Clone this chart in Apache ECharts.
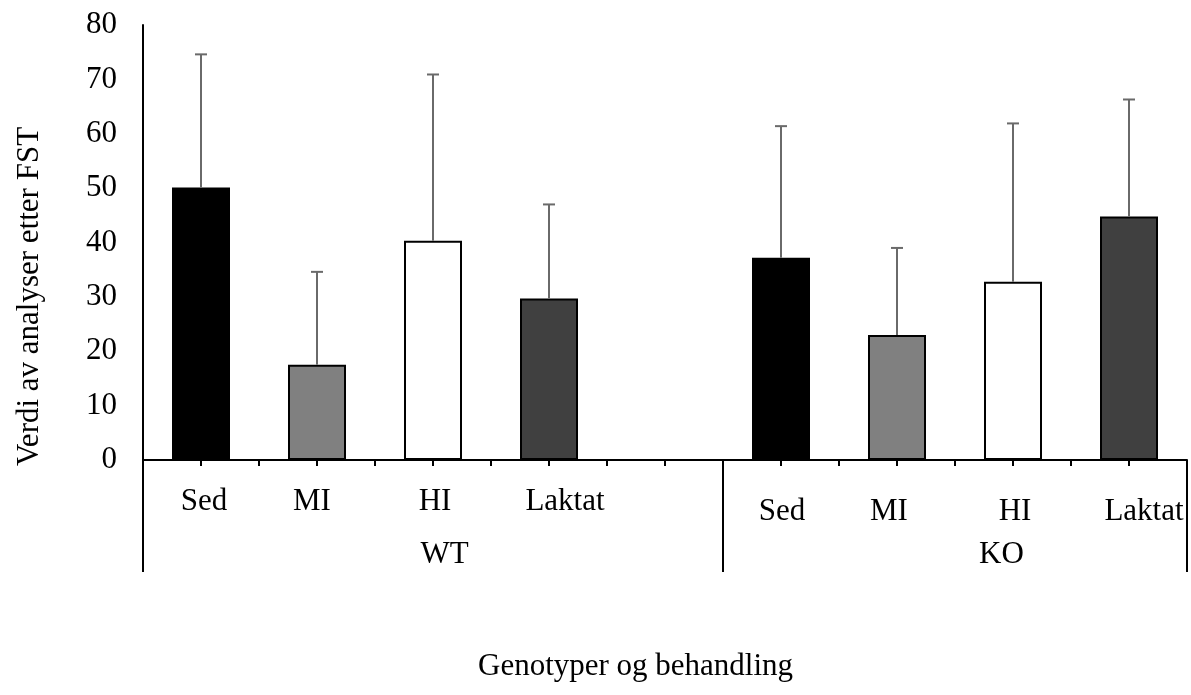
<!DOCTYPE html>
<html>
<head>
<meta charset="utf-8">
<script src="https://cdn.jsdelivr.net/npm/echarts@6/dist/echarts.min.js"></script>
<style>
  html, body { margin: 0; padding: 0; background: #fff; }
  #chart { width: 1191px; height: 695px; }
</style>
</head>
<body>
<div id="chart"></div>
<script>
// values
const treatments = ['Sed', 'MI', 'HI', 'Laktat'];
const genotypes = ['WT', 'KO'];
const wtMeans = [50.1, 17.5, 40.3, 29.7];
const wtSD = [24.5, 17.1, 30.6, 17.3];
const koMeans = [37.2, 23.0, 32.8, 44.8];
const koSD = [24.2, 16.0, 29.1, 21.5];
const yTicks = [0, 10, 20, 30, 40, 50, 60, 70, 80];

const barColors = ['#000000', '#808080', '#ffffff', '#404040'];
const FONT = "'Liberation Serif', 'Times New Roman', serif";

// one empty slot between the genotype groups, like the excel sheet
const categories = [...treatments, '', ...treatments];
const means = [...wtMeans, null, ...koMeans];
const sds = [...wtSD, null, ...koSD];

// excel puts a few labels slightly off centre, and the KO row a bit lower
const labelPad = [
  [0, 0, 0, 6], [0, 10, 0, 0], [0, 0, 0, 4], [0, 0, 0, 32], [0, 0, 0, 0],
  [10, 0, 0, 2], [10, 16, 0, 0], [10, 0, 0, 4], [10, 0, 0, 30]
];

const myChart = echarts.init(document.getElementById('chart'));

const option = {
  animation: false,
  backgroundColor: '#fff',
  textStyle: { fontFamily: FONT },
  title: {
    text: 'Genotyper og behandling',
    left: 473,
    top: 646,
    textStyle: { fontFamily: FONT, fontSize: 31, fontWeight: 'normal', color: '#000' }
  },
  grid: { left: 143, right: 4, top: 25, bottom: 235, containLabel: false },
  xAxis: [
    {
      type: 'category',
      data: categories.map((c, i) => ({
        value: c,
        textStyle: { padding: labelPad[i] }
      })),
      axisLine: { lineStyle: { color: '#000', width: 2 } },
      axisTick: { show: true, length: 6, lineStyle: { color: '#000', width: 2 } },
      axisLabel: {
        interval: 0,
        margin: 26,
        fontSize: 31,
        fontFamily: FONT,
        color: '#000'
      },
      splitLine: { show: false }
    },
    {
      // ticks in the middle of each category
      type: 'category',
      data: categories,
      position: 'bottom',
      axisLine: { show: false },
      axisTick: { show: true, alignWithLabel: true, length: 6, lineStyle: { color: '#000', width: 2 } },
      axisLabel: { show: false },
      splitLine: { show: false }
    },
    {
      // genotype level: long dividers and WT / KO labels
      type: 'value',
      min: 0,
      max: categories.length,
      position: 'bottom',
      axisLine: { show: false },
      splitLine: { show: false },
      axisTick: {
        show: true,
        customValues: [0, treatments.length + 1, categories.length],
        length: 112,
        lineStyle: { color: '#000', width: 2 }
      },
      axisLabel: {
        customValues: [2.6, 7.4],
        formatter: (v) => (v < treatments.length + 1 ? genotypes[0] : genotypes[1]),
        margin: 79,
        fontSize: 31,
        fontFamily: FONT,
        color: '#000'
      }
    }
  ],
  yAxis: {
    type: 'value',
    min: yTicks[0],
    max: yTicks[yTicks.length - 1],
    interval: 10,
    name: 'Verdi av analyser etter FST',
    nameLocation: 'middle',
    nameGap: 98,
    // the title sits lower than the middle of the axis
    nameTextStyle: { fontFamily: FONT, fontSize: 31, color: '#000', padding: [0, 108, 0, 0] },
    axisLine: { show: true, lineStyle: { color: '#000', width: 2 } },
    axisTick: { show: false },
    axisLabel: { margin: 26, fontSize: 31, fontFamily: FONT, color: '#000' },
    splitLine: { show: false }
  },
  series: [
    {
      type: 'bar',
      barWidth: '50%',
      data: means.map((m, i) => ({
        value: m,
        itemStyle: {
          color: barColors[i % (treatments.length + 1)],
          borderColor: '#000',
          borderWidth: 2
        }
      }))
    },
    {
      type: 'custom',
      z: 3,
      data: means.map((m, i) => (m == null ? [i, null, null] : [i, m, m + sds[i]])),
      renderItem: (params, api) => {
        if (api.value(1) == null || isNaN(api.value(1))) return;
        const base = api.coord([api.value(0), api.value(1)]);
        const top = api.coord([api.value(0), api.value(2)]);
        const style = { stroke: '#6a6a6a', lineWidth: 2 };
        return {
          type: 'group',
          children: [
            { type: 'line', shape: { x1: base[0], y1: base[1], x2: top[0], y2: top[1] }, style },
            { type: 'line', shape: { x1: top[0] - 6, y1: top[1], x2: top[0] + 6, y2: top[1] }, style }
          ]
        };
      }
    }
  ]
};

myChart.setOption(option);
</script>
</body>
</html>
